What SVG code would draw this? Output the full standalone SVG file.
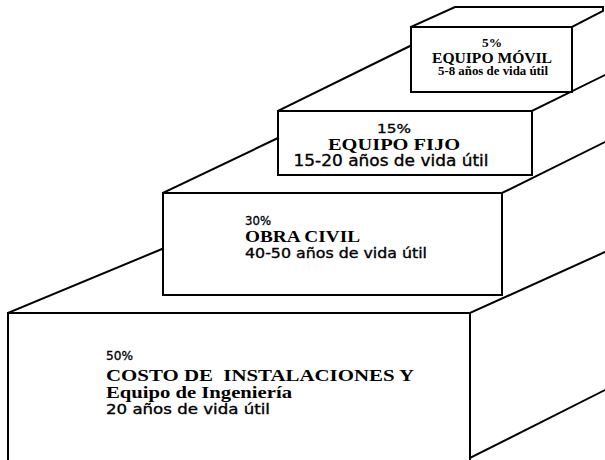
<svg xmlns="http://www.w3.org/2000/svg" width="605" height="460" viewBox="0 0 605 460">
<style>
.e{fill:none;stroke:#000;stroke-width:2;stroke-linejoin:miter;stroke-linecap:square}
.b{font-family:"Liberation Serif","Times New Roman",serif;font-weight:bold;fill:#000}
.s{font-family:"DejaVu Sans","Liberation Sans",sans-serif;fill:#000;stroke:#000;stroke-width:0.35}
.c{text-anchor:middle}
</style>
<rect width="605" height="460" fill="#fff"/>
<g id="step1">
<path class="e" d="M8,462 L8,313 L470,313 L470,462 M8,313 L162,249 M470,313 L605,252 M470,458 L605,390"/>
<text class="s" x="106" y="360" font-size="13" textLength="27" lengthAdjust="spacingAndGlyphs">50%</text>
<text class="b" x="106" y="381" font-size="17" textLength="308" lengthAdjust="spacingAndGlyphs" style="white-space:pre">COSTO DE  INSTALACIONES Y</text>
<text class="b" x="106" y="398" font-size="16" textLength="186" lengthAdjust="spacingAndGlyphs">Equipo de Ingeniería</text>
<text class="s" x="106" y="414" font-size="14" textLength="164" lengthAdjust="spacingAndGlyphs">20 años de vida útil</text>
</g>
<g id="step2">
<path class="e" d="M163,295 L163,193 L502,193 L502,295 Z M163,193 L278,138 M502,193 L605,142"/>
<text class="s" x="245" y="225" font-size="13" textLength="26" lengthAdjust="spacingAndGlyphs">30%</text>
<text class="b" x="245" y="242" font-size="17" textLength="115" lengthAdjust="spacingAndGlyphs">OBRA CIVIL</text>
<text class="s" x="245" y="258" font-size="14" textLength="182" lengthAdjust="spacingAndGlyphs">40-50 años de vida útil</text>
</g>
<g id="step3">
<path class="e" d="M278,175 L278,111 L532,111 L532,175 Z M278,111 L410,46 M532,111 L605,75"/>
<text class="s c" x="394" y="133" font-size="13" textLength="34" lengthAdjust="spacingAndGlyphs">15%</text>
<text class="b c" x="394" y="150" font-size="16" textLength="132" lengthAdjust="spacingAndGlyphs">EQUIPO FIJO</text>
<text class="s c" x="391" y="166" font-size="15" textLength="195" lengthAdjust="spacingAndGlyphs">15-20 años de vida útil</text>
</g>
<g id="step4">
<path class="e" d="M411,92 L411,27 L572,27 L572,92 Z M411,27 L455,7 L603,7 L603,11 L572,27"/>
<text class="b c" x="492" y="47" font-size="12" textLength="20" lengthAdjust="spacingAndGlyphs">5%</text>
<text class="b c" x="492" y="63" font-size="14" textLength="120" lengthAdjust="spacingAndGlyphs">EQUIPO MÓVIL</text>
<text class="b c" x="493" y="75" font-size="11.5" textLength="110" lengthAdjust="spacingAndGlyphs">5-8 años de vida útil</text>
</g>
</svg>
